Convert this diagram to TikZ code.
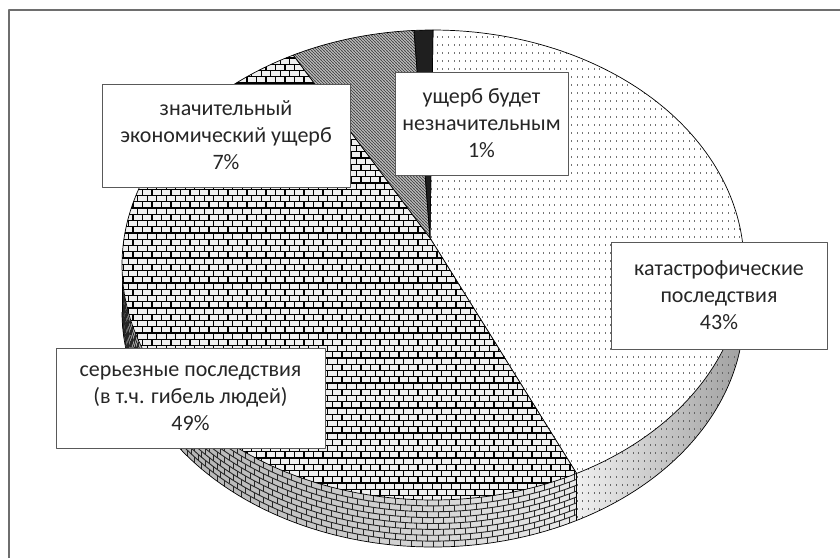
\documentclass[tikz,border=0pt]{standalone}
\usepackage{fontspec}
\setmainfont{Carlito}
\usetikzlibrary{patterns}
\pgfdeclarepatternformonly{topbricks}{\pgfpoint{-1pt}{-1pt}}{\pgfpoint{10.5pt}{13.5pt}}{\pgfpoint{9.5pt}{12.5pt}}{%
  \pgfsetlinewidth{1.4pt}%
  \pgfpathmoveto{\pgfpoint{0pt}{0pt}}\pgfpathlineto{\pgfpoint{9.5pt}{0pt}}%
  \pgfpathmoveto{\pgfpoint{0pt}{6.25pt}}\pgfpathlineto{\pgfpoint{9.5pt}{6.25pt}}%
  \pgfpathmoveto{\pgfpoint{0pt}{0pt}}\pgfpathlineto{\pgfpoint{0pt}{6.25pt}}%
  \pgfpathmoveto{\pgfpoint{4.75pt}{6.25pt}}\pgfpathlineto{\pgfpoint{4.75pt}{12.5pt}}%
  \pgfusepath{stroke}}
\pgfdeclarepatternformonly{sparsedots}{\pgfpoint{-0.5pt}{-0.5pt}}{\pgfpoint{6pt}{8.5pt}}{\pgfpoint{5.6pt}{8pt}}{%
  \pgfpathrectangle{\pgfpoint{0pt}{0pt}}{\pgfpoint{1pt}{1.7pt}}\pgfusepath{fill}}
\pgfdeclarepatternformonly{greyhatch}{\pgfpoint{-0.5pt}{-0.5pt}}{\pgfpoint{3.5pt}{3.5pt}}{\pgfpoint{3pt}{3pt}}{%
  \pgfsetlinewidth{0.9pt}%
  \pgfpathmoveto{\pgfpoint{-0.5pt}{3.5pt}}\pgfpathlineto{\pgfpoint{3.5pt}{-0.5pt}}\pgfusepath{stroke}}
\definecolor{framecol}{HTML}{6E6E6E}
\definecolor{txtcol}{HTML}{262626}
\tikzset{
  lbl/.style={draw=black!65, line width=1pt, fill=white, inner sep=0pt, align=center,
    text=txtcol, font=\fontsize{22pt}{27pt}\selectfont},
  edge/.style={draw=black, line width=0.7pt},
  sidebrick/.style={draw=black!85, line width=0.9pt},
}
\begin{document}
\begin{tikzpicture}[x=1pt,y=-1pt,line join=round]
\useasboundingbox (0,0) rectangle (840,558);
\fill[white] (0,0) rectangle (840,558);
\draw[framecol, line width=1.5pt] (9,558) -- (9,10) -- (840,10);

% ---- side of 43% slice
\shade[left color=gray!12, right color=gray!75]
  plot[domain=0:62.5,samples=60] ({433+311*cos(\x)},{265+235*sin(\x)})
  -- plot[domain=0:62.5,samples=60] ({433+311*cos(62.5-\x)},{312+235*sin(62.5-\x)}) -- cycle;
\fill[pattern=sparsedots, pattern color=black!60]
  plot[domain=0:62.5,samples=60] ({433+311*cos(\x)},{265+235*sin(\x)})
  -- plot[domain=0:62.5,samples=60] ({433+311*cos(62.5-\x)},{312+235*sin(62.5-\x)}) -- cycle;

% ---- side of 49% slice
\begin{scope}
  \clip plot[domain=62.5:180,samples=90] ({433+311*cos(\x)},{265+235*sin(\x)})
    -- plot[domain=0:117.5,samples=90] ({433+311*cos(180-\x)},{312+235*sin(180-\x)}) -- cycle;
  \shade[left color=gray!65, right color=gray!15] (110,250) rectangle (600,560);
  \foreach \i in {1,...,7} {
    \draw[sidebrick] plot[domain=60:182,samples=90] ({433+311*cos(\x)},{265+5.875*\i+235*sin(\x)});
  }
  \foreach \i in {0,...,7} {
    \pgfmathsetmacro\off{mod(\i,2)}
    \foreach \k in {0,...,60} {
      \pgfmathsetmacro\tt{61+2*\k+\off}
      \draw[sidebrick] ({433+311*cos(\tt)},{265+5.875*\i+235*sin(\tt)}) -- ++(0,5.875);
    }
  }
\end{scope}
% side outline
\draw[edge] plot[domain=0:180,samples=150] ({433+311*cos(\x)},{312+235*sin(\x)});
\draw[edge] ({433+311*cos(62.5)},{265+235*sin(62.5)}) -- ({433+311*cos(62.5)},{312+235*sin(62.5)});
\draw[edge] (744,265) -- (744,312);
\draw[edge] (122,265) -- (122,312);

% ---- top slices
% 43%
\fill[white] (430,238) -- plot[domain=-90:62.5,samples=120] ({433+311*cos(\x)},{265+235*sin(\x)}) -- cycle;
\fill[pattern=sparsedots, pattern color=black!55] (430,238) -- plot[domain=-90:62.5,samples=120] ({433+311*cos(\x)},{265+235*sin(\x)}) -- cycle;
\draw[edge] (430,238) -- plot[domain=-90:62.5,samples=120] ({433+311*cos(\x)},{265+235*sin(\x)}) -- cycle;
% 49%
\fill[gray!12] (430,238) -- plot[domain=62.5:243.3,samples=140] ({433+311*cos(\x)},{265+235*sin(\x)}) -- cycle;
\fill[pattern=topbricks, pattern color=black] (430,238) -- plot[domain=62.5:243.3,samples=140] ({433+311*cos(\x)},{265+235*sin(\x)}) -- cycle;
\draw[edge] (430,238) -- plot[domain=62.5:243.3,samples=140] ({433+311*cos(\x)},{265+235*sin(\x)}) -- cycle;
% 7%
\fill[gray!35] (430,238) -- plot[domain=243.3:266.5,samples=40] ({433+311*cos(\x)},{265+235*sin(\x)}) -- cycle;
\fill[pattern=greyhatch, pattern color=black!70] (430,238) -- plot[domain=243.3:266.5,samples=40] ({433+311*cos(\x)},{265+235*sin(\x)}) -- cycle;
\draw[edge] (430,238) -- plot[domain=243.3:266.5,samples=40] ({433+311*cos(\x)},{265+235*sin(\x)}) -- cycle;
% 1%
\filldraw[fill=black!88, edge] (430,238) -- plot[domain=266.5:270,samples=10] ({433+311*cos(\x)},{265+235*sin(\x)}) -- cycle;

% ---- labels
\node[lbl, minimum width=248pt, minimum height=103pt] (l7) at (226,135.5) {значительный\\экономический ущерб\\7\%};
\node[lbl, minimum width=173pt, minimum height=103pt] (l1) at (481.5,123.5) {ущерб будет\\незначительным\\1\%};
\node[lbl, minimum width=216pt, minimum height=107pt] (l43) at (719,295.5) {катастрофические\\последствия\\43\%};
\node[lbl, minimum width=269pt, minimum height=100pt] (l49) at (190.5,398) {серьезные последствия\\(в т.ч. гибель людей)\\49\%};
\end{tikzpicture}
\end{document}
